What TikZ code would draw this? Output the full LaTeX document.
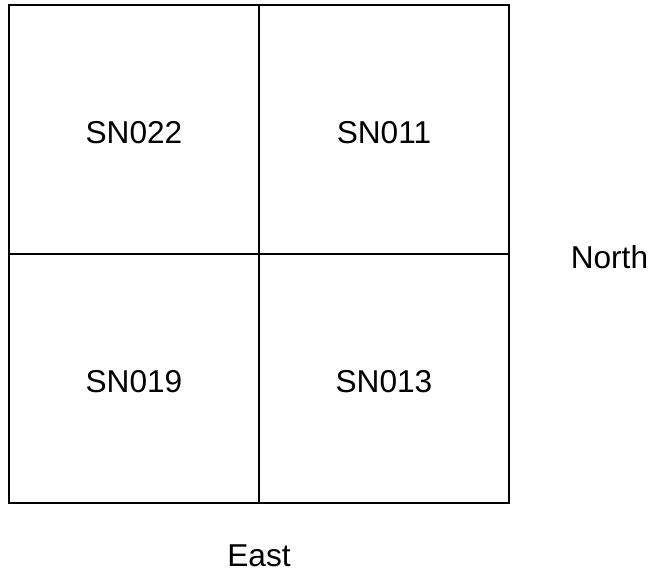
\documentclass[tikz,border=0pt]{standalone}
\usepackage{fontspec}
\setmainfont{Liberation Sans}
\usepackage{tikz}
\usetikzlibrary{positioning}

\tikzset{
  cell/.style={draw, line width=.85pt, minimum width=5cm, minimum height=4.98cm, inner sep=0pt, outer sep=0pt},
  tag/.style={font=\fontsize{18}{21}\selectfont, inner sep=0pt}
}

\begin{document}
\begin{tikzpicture}[x=.02cm, y=-.02cm]
        \useasboundingbox (0,0) rectangle (648,573);

        \node (c22) [cell] at (134,129.5) {};
        \node (c11) [cell, right=0cm of c22] {};
        \node (c19) [cell, below=0cm of c22] {};
        \node (c13) [cell, right=0cm of c19] {};

        \node (sn022) [tag, yshift=-2pt] at (c22) {SN022};
        \node (sn011) [tag, yshift=-2pt] at (c11) {SN011};
        \node (sn019) [tag, yshift=-2pt] at (c19) {SN019};
        \node (sn013) [tag, yshift=-2pt] at (c13) {SN013};

        \node (north) [tag, right=1.23cm of c11.south east, yshift=-1.7pt] {North};
        \node (east) [tag, below=.83cm of c19.south east] {East};
      \end{tikzpicture}
\end{document}
